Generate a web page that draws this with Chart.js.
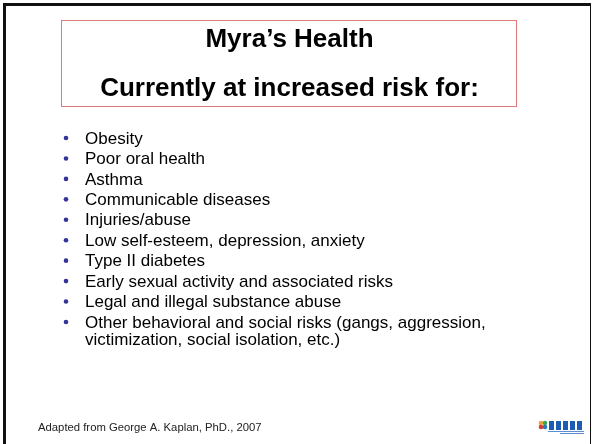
<!DOCTYPE html>
<html>
<head>
<meta charset="utf-8">
<script src="https://cdn.jsdelivr.net/npm/chart.js@4"></script>
<style>
  html, body { margin: 0; padding: 0; background: #fff; }
  canvas { display: block; }
</style>
</head>
<body>
<canvas id="slide" width="592" height="444"></canvas>
<script>
const titleLines = ['Myra’s Health', 'Currently at increased risk for:'];
const risks = [
  'Obesity',
  'Poor oral health',
  'Asthma',
  'Communicable diseases',
  'Injuries/abuse',
  'Low self-esteem, depression, anxiety',
  'Type II diabetes',
  'Early sexual activity and associated risks',
  'Legal and illegal substance abuse',
  ['Other behavioral and social risks (gangs, aggression,', 'victimization, social isolation, etc.)']
];
const bulletValues = [0, 0, 0, 0, 0, 0, 0, 0, 0, 0];
const footerText = 'Adapted from George A. Kaplan, PhD., 2007';

// frame, title box and footer are drawn around the chart area
const slidePlugin = {
  id: 'slide',
  beforeDraw(chart) {
    const c = chart.ctx;
    c.save();
    c.fillStyle = '#fff';
    c.fillRect(0, 0, chart.width, chart.height);

    c.fillStyle = '#111';
    c.fillRect(3, 3, 587, 3);
    c.fillRect(3, 3, 3, 441);
    c.fillRect(590, 3, 1, 441);

    c.strokeStyle = '#e07a7a';
    c.lineWidth = 1;
    c.strokeRect(61.5, 20.5, 455, 86);

    c.fillStyle = '#000';
    c.font = 'bold 26px "Liberation Sans", Arial, sans-serif';
    c.textAlign = 'center';
    c.textBaseline = 'alphabetic';
    c.fillText(titleLines[0], 289.5, 47);
    c.fillText(titleLines[1], 289.5, 96);
    c.restore();
  },
  afterDatasetsDraw(chart) {
    const c = chart.ctx;
    const pts = chart.getDatasetMeta(0).data;
    c.save();
    c.fillStyle = '#000';
    c.font = '17px "Liberation Sans", Arial, sans-serif';
    c.textAlign = 'left';
    c.textBaseline = 'middle';
    chart.data.labels.forEach((lbl, i) => {
      const lines = Array.isArray(lbl) ? lbl : [lbl];
      lines.forEach((ln, j) => {
        c.fillText(ln, pts[i].x + 19, pts[i].y + 1 + j * 17);
      });
    });

    c.font = '11.3px "Liberation Sans", Arial, sans-serif';
    c.textBaseline = 'alphabetic';
    c.fillStyle = '#222';
    c.fillText(footerText, 38, 431);

    // little logo bottom right
    const dots = [['#f0a030', 541, 423], ['#3aa655', 545, 423], ['#d83a2e', 541, 427], ['#2b78c0', 545, 427]];
    dots.forEach(d => {
      c.fillStyle = d[0];
      c.beginPath();
      c.arc(d[1], d[2], 2.3, 0, Math.PI * 2);
      c.fill();
    });
    c.fillStyle = '#1e5cb3';
    [549, 556, 563, 570, 577].forEach(x => c.fillRect(x, 421, 5, 9));
    c.fillStyle = '#5d8fd0';
    c.fillRect(548, 431, 36, 1);
    c.fillRect(560, 433, 24, 1);
    c.restore();
  }
};

new Chart(document.getElementById('slide'), {
  type: 'line',
  data: {
    labels: risks,
    datasets: [{
      data: bulletValues,
      showLine: false,
      pointRadius: 2.3,
      pointBackgroundColor: '#333399',
      pointBorderWidth: 0,
      clip: false
    }]
  },
  options: {
    indexAxis: 'y',
    responsive: false,
    devicePixelRatio: 1,
    animation: false,
    events: [],
    layout: { padding: { top: 138, bottom: 122, left: 66, right: 20 } },
    scales: {
      x: { type: 'linear', min: 0, max: 1, display: false },
      y: { type: 'category', display: false }
    },
    plugins: { legend: { display: false }, tooltip: { enabled: false } }
  },
  plugins: [slidePlugin]
});
</script>
</body>
</html>
